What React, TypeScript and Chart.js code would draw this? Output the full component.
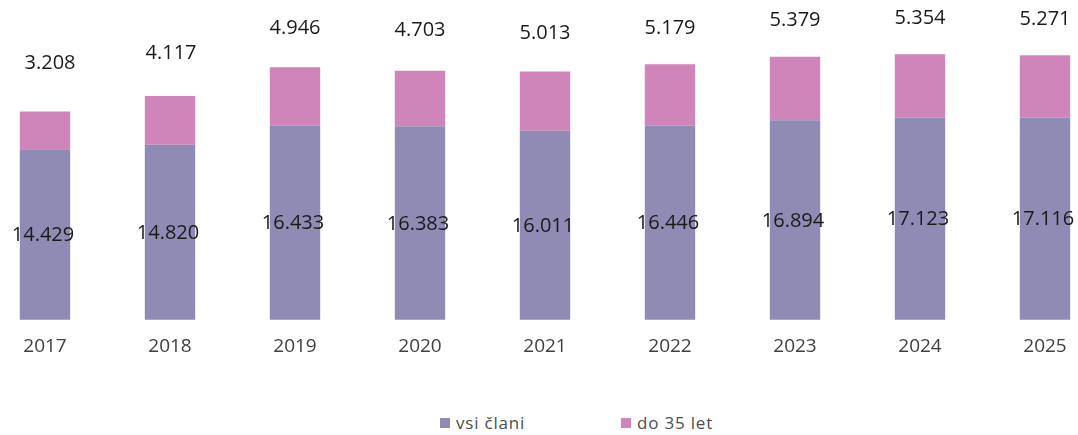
import React, { useEffect, useRef } from "react";
import { Chart, registerables } from "chart.js";

Chart.register(...registerables);

const categories = ["2017", "2018", "2019", "2020", "2021", "2022", "2023", "2024", "2025"];
const vsiClani = [14429, 14820, 16433, 16383, 16011, 16446, 16894, 17123, 17116];
const do35let = [3208, 4117, 4946, 4703, 5013, 5179, 5379, 5354, 5271];
const seriesNames = ["vsi člani", "do 35 let"];

// label layout (pixels above the top of each bar), not data
const topLabelLift = [48, 43, 39, 40, 38, 36, 36, 36, 36];
const topLabelShift = [5, 1, 0, 0, 0, 0, 0, 0, 0];

const COLOR_BOTTOM = "#8f8bb4";
const COLOR_TOP = "#cf85b9";

const fmt = (v: number) => {
  const s = String(v);
  return s.length > 3 ? s.slice(0, s.length - 3) + "." + s.slice(s.length - 3) : s;
};

const labelPlugin = {
  id: "valueLabels",
  afterDatasetsDraw(chart: any) {
    const ctx = chart.ctx;
    ctx.save();
    ctx.font = '20px "Open Sans"';
    ctx.fillStyle = "#1a1a1a";
    ctx.textAlign = "center";
    ctx.textBaseline = "middle";
    const m0 = chart.getDatasetMeta(0);
    const m1 = chart.getDatasetMeta(1);
    m0.data.forEach((bar: any, i: number) => {
      const cy = (bar.y + bar.base) / 2;
      ctx.fillText(fmt(vsiClani[i]), bar.x - 2, cy + 1);
    });
    m1.data.forEach((bar: any, i: number) => {
      ctx.fillText(fmt(do35let[i]), bar.x + topLabelShift[i], bar.y - topLabelLift[i]);
    });
    ctx.restore();
  },
};

export default function App() {
  const ref = useRef<HTMLCanvasElement | null>(null);
  useEffect(() => {
    if (!ref.current) return;
    const chart = new Chart(ref.current, {
      type: "bar",
      data: {
        labels: categories,
        datasets: [
          {
            label: seriesNames[0],
            data: vsiClani,
            backgroundColor: COLOR_BOTTOM,
            categoryPercentage: 1,
            barPercentage: 0.403,
            clip: false as any,
          },
          {
            label: seriesNames[1],
            data: do35let,
            backgroundColor: COLOR_TOP,
            categoryPercentage: 1,
            barPercentage: 0.403,
            clip: false as any,
          },
        ],
      },
      options: {
        animation: false,
        responsive: false,
        devicePixelRatio: 1,
        layout: { padding: { top: 24.5, left: 45, right: 33, bottom: 27.5 } },
        plugins: { legend: { display: false }, tooltip: { enabled: false } },
        scales: {
          x: {
            stacked: true,
            offset: false,
            grid: { display: false, drawTicks: false },
            border: { display: false },
            ticks: {
              color: "#404040",
              font: { family: "Open Sans", size: 19 },
              padding: 15,
              maxRotation: 0,
              autoSkip: false,
            },
            afterFit(scale: any) {
              scale.paddingLeft = 0;
              scale.paddingRight = 0;
            },
          },
          y: {
            stacked: true,
            display: false,
            min: 0,
            max: 25000,
          },
        },
      },
      plugins: [labelPlugin],
    });
    return () => chart.destroy();
  }, []);

  const legendText: React.CSSProperties = {
    fontFamily: '"Open Sans", sans-serif',
    fontSize: 17,
    letterSpacing: 0.8,
    color: "#4d4d4d",
    lineHeight: "20px",
  };
  const box = (c: string): React.CSSProperties => ({
    width: 10,
    height: 10,
    background: c,
    marginRight: 6,
    display: "inline-block",
  });

  return (
    <div style={{ position: "absolute", left: 0, top: 0, width: 1078, height: 435, background: "#fff" }}>
      <canvas ref={ref} width={1078} height={400} style={{ display: "block" }} />
      <div style={{ position: "absolute", left: 440, top: 413, display: "flex", alignItems: "center" }}>
        <div style={{ display: "flex", alignItems: "center", width: 181 }}>
          <span style={box(COLOR_BOTTOM)} />
          <span style={legendText}>{seriesNames[0]}</span>
        </div>
        <div style={{ display: "flex", alignItems: "center" }}>
          <span style={box(COLOR_TOP)} />
          <span style={legendText}>{seriesNames[1]}</span>
        </div>
      </div>
    </div>
  );
}
